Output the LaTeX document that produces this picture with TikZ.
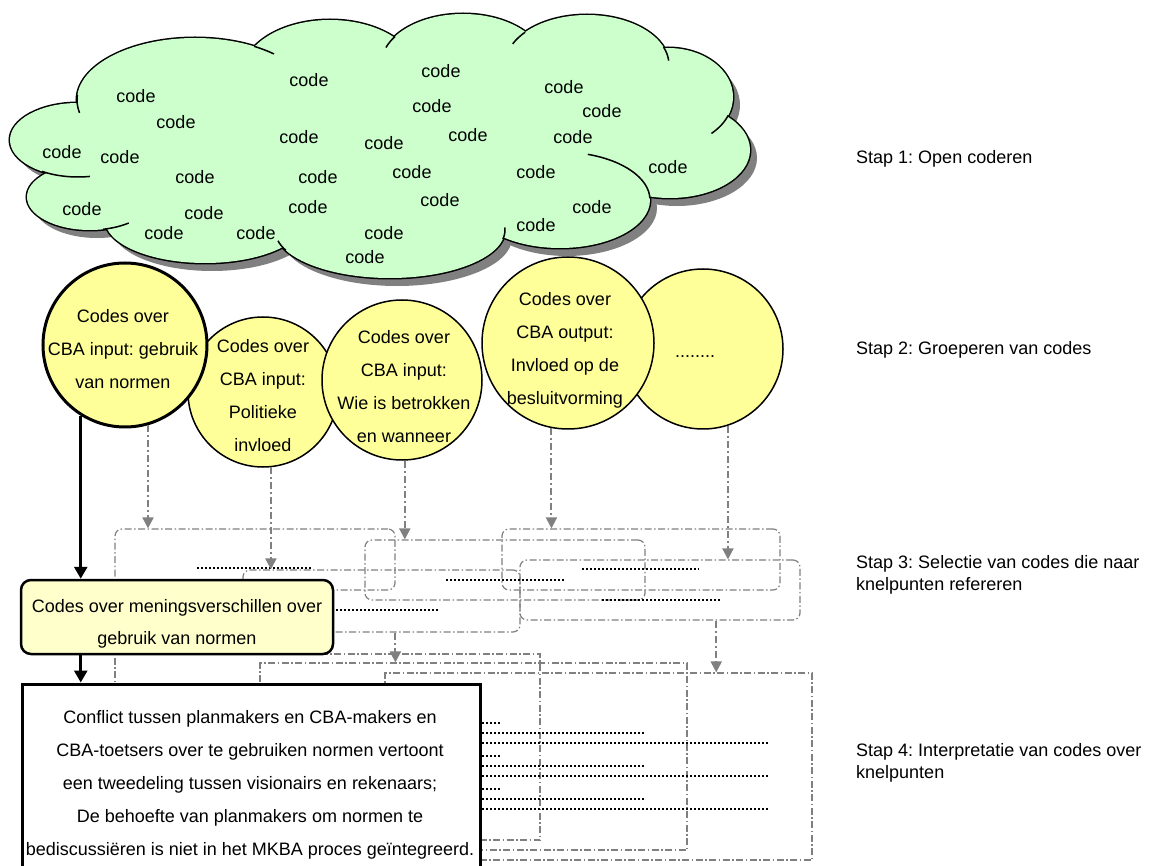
\documentclass[tikz,border=0pt]{standalone}
\usepackage{fontspec}
\setmainfont{Liberation Sans}
\frenchspacing
\usetikzlibrary{arrows.meta, positioning, calc, fit}
\definecolor{cloudgreen}{HTML}{CCFFCC}
\definecolor{grpyellow}{HTML}{FFFF99}
\definecolor{paleyellow}{HTML}{FFFFCC}
\definecolor{linegrey}{HTML}{808080}
% bumps of the cloud: x/y/x radius/y radius
\newcommand\cloudbumps{78/140/68/37, 90/197/63/33, 195/100/118/62, 330/75/88/55,
  463/65/82/51, 587/65/82/50, 668/97/65/49, 670/150/80/48, 560/200/90/48,
  390/230/115/48, 205/220/100/43, 390/150/280/90}

\begin{document}
\begin{tikzpicture}[
    x=1pt, y=-1pt,
    font=\fontsize{18}{22}\selectfont,
    % open codes
    codelbl/.style={inner sep=0pt},
    % groups of codes
    grp/.style={circle, draw, line width=1.5pt, fill=grpyellow, inner sep=0pt},
    grptxt/.style={align=center, inner sep=0pt, font=\fontsize{18}{33}\selectfont},
    % selection and interpretation boxes
    selbox/.style={draw=linegrey, line width=1.2pt, dash pattern=on 7pt off 2.5pt on 1.5pt off 2.5pt, rounded corners=7pt, inner sep=0pt},
    intbox/.style={selbox, sharp corners},
    pick/.style={draw=linegrey, line width=2pt, dash pattern=on 7pt off 3pt on 2pt off 3pt, -{Triangle[width=11pt, length=11pt]}},
    codeline/.style={line width=1.5pt, dash pattern=on 1.5pt off 2.5pt},
    flow/.style={line width=2.8pt, -{Triangle[width=13pt, length=12pt]}},
    steplbl/.style={anchor=west, align=left, inner sep=0pt}
]
    \useasboundingbox (0,0) rectangle (1149,866);
    \clip (0,0) rectangle (1149,866);

    % --- STAP 1: CLOUD ---
    \foreach \a/\b/\c/\d in \cloudbumps
        \fill[linegrey] (\a+7,\b+8) ellipse [x radius=\c, y radius=\d];
    \foreach \a/\b/\c/\d in \cloudbumps
        \draw[line width=3pt] (\a,\b) ellipse [x radius=\c, y radius=\d];
    \foreach \a/\b/\c/\d in \cloudbumps
        \fill[cloudgreen] (\a,\b) ellipse [x radius=\c, y radius=\d];
    % inner ends of the bumps
    \foreach \a/\b/\c/\d/\s/\e in {195/100/118/62/185/168, 78/140/68/37/122/80,
        90/197/63/33/78/52, 390/230/115/48/167/155, 390/230/115/48/-3/11,
        195/100/118/62/-60/-48, 463/65/82/51/-146/-160, 587/65/82/50/-139/-155,
        587/65/82/50/-21/-5, 668/97/65/49/22/48, 560/200/90/48/-72/-2}
        \draw[line width=1.5pt] (\a,\b) ++(\s:{\c} and {\d})
            arc[start angle=\s, end angle=\e, x radius=\c, y radius=\d];

    \foreach \cx/\cy [count=\k] in {309/80, 441/71, 564/87, 136/96, 432/106,
        602/111, 176/122, 299/137, 468/135, 384/143, 573/137, 62/152, 120/157,
        668/167, 195/177, 318/177, 412/172, 536/172, 82/209, 204/213, 308/207,
        440/200, 592/207, 164/233, 256/233, 384/233, 536/225, 365/257}
        \node[codelbl] (code\k) at (\cx,\cy) {code};

    % --- STAP 3 AND 4: BOXES ---
    \node[selbox, fit={(115,529) (395,590)}] (sel1) {};
    \node[selbox, fit={(243,570) (520,632)}] (sel2) {};
    \node[selbox, fit={(365,540) (645,600)}] (sel3) {};
    \node[selbox, fit={(502,529) (780,590)}] (sel4) {};
    \node[selbox, fit={(520,560) (800,620)}] (sel5) {};
    \node[intbox, fit={(115,654) (540,840)}] (int1) {};
    \node[intbox, fit={(260,663) (687,850)}] (int2) {};
    \node[intbox, fit={(385,673) (812,860)}] (int3) {};

    % selected codes
    \draw[codeline] (197,568) -- (313,568);
    \draw[codeline] (300,610) -- (440,610);
    \draw[codeline] (446,580) -- (564,580);
    \draw[codeline] (582,569) -- (699,569);
    \draw[codeline] (602,600) -- (720,600);
    \foreach \ry in {0,33,66} {
        \draw[codeline] (470,723+\ry) -- (500,723+\ry);
        \draw[codeline] (470,733+\ry) -- (645,733+\ry);
        \draw[codeline] (470,743+\ry) -- (770,743+\ry);
    }

    % --- STAP 2: GROUPS ---
    \node[grp, minimum size=160] (g5) at (703,349) {};
    \node[grp, minimum size=172] (g4) at (568,343) {};
    \node[grp, minimum size=150] (g2) at (263,392) {};
    \node[grp, minimum size=160] (g3) at (402,380) {};
    \node[grp, minimum size=164, line width=3pt] (g1) at (125,345) {};
    \node[grptxt] (g1t) at (123,349) {Codes over\\CBA input: gebruik\\van normen};
    \node[grptxt] (g2t) at (263,396) {Codes over\\CBA input:\\Politieke\\invloed};
    \node[grptxt] (g3t) at (404,387) {Codes over\\CBA input:\\Wie is betrokken\\en wanneer};
    \node[grptxt] (g4t) at (565,350) {Codes over\\CBA output:\\Invloed op de\\besluitvorming};
    \node[grptxt] (g5t) at (695,357) {........};

    % --- KNELPUNT AND INTERPRETATION ---
    \node[draw, line width=2.5pt, rounded corners=10pt, fill=paleyellow, inner sep=0pt,
          fit={(21,580) (333,654)}] (dispute) {};
    \node[grptxt, font=\fontsize{18}{32}\selectfont] (disputetxt) at (177,624)
          {Codes over meningsverschillen over\\gebruik van normen};
    \node[draw, line width=3pt, fill=white, inner sep=0pt, fit={(22,684) (480,900)}] (concl) {};
    \node[grptxt] (concltxt) at (250,785) {Conflict tussen planmakers en CBA-makers en\\
        CBA-toetsers over te gebruiken normen vertoont\\
        een tweedeling tussen visionairs en rekenaars;\\
        De behoefte van planmakers om normen te\\
        bediscussiëren is niet in het MKBA proces geïntegreerd.};

    % --- ARROWS ---
    \draw[pick] (g1.-74) -- (g1.-74 |- sel1.north);
    \draw[pick] (g2.-84) -- (g2.-84 |- sel2.north);
    \draw[pick] (g3.-88) -- (g3.-88 |- sel3.north);
    \draw[pick] (g4.-101) -- (g4.-101 |- sel4.north);
    \draw[pick] (g5.-72) -- (g5.-72 |- sel5.north);
    \coordinate (drop2) at ($(sel2.south west)!.55!(sel2.south east)$);
    \coordinate (drop5) at ($(sel5.south west)!.70!(sel5.south east)$);
    \draw[pick] (drop2) -- (drop2 |- int2.north);
    \draw[pick] (drop5) -- (drop5 |- int3.north);
    \draw[flow] (g1.-122) -- (g1.-122 |- dispute.north);
    \draw[flow] (g1.-122 |- dispute.south) -- (g1.-122 |- concl.north);

    % --- STEPS ---
    \node[steplbl] (stap1) at (856,159) {Stap 1: Open coderen};
    \node[steplbl] (stap2) at (856,350) {Stap 2: Groeperen van codes};
    \node[steplbl] (stap3) at (856,575) {Stap 3: Selectie van codes die naar\\knelpunten refereren};
    \node[steplbl] (stap4) at (856,763) {Stap 4: Interpretatie van codes over\\knelpunten};
\end{tikzpicture}
\end{document}
